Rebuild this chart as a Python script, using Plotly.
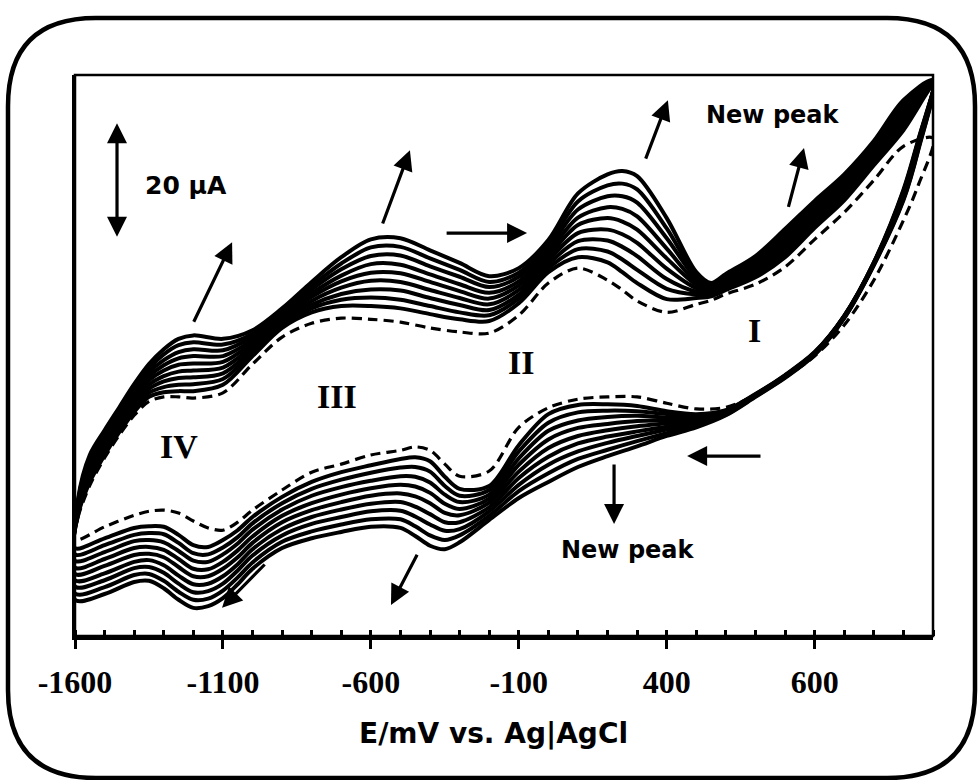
import plotly.graph_objects as go

# ---------------- data (E in mV, I in µA) ----------------
E_FWD = [-1600, -1590, -1550, -1500, -1450, -1400, -1350, -1300, -1250, -1200, -1100, -1000,
         -900, -800, -700, -600, -500, -400, -300, -200, -100, 0, 100, 200, 250, 300, 400,
         500, 550, 600, 700, 800, 900, 1000, 1100, 1200, 1300]
E_REV = [-1600, -1500, -1400, -1350, -1300, -1250, -1200, -1150, -1100, -1050, -1000, -900,
         -800, -700, -600, -500, -450, -400, -350, -300, -200, -100, 0, 100, 200, 300, 400,
         500, 600, 700, 800, 900, 1000, 1100, 1200, 1250, 1300]

# forward (anodic) scans, cycle 0 = dashed first scan
FWD_C0 = [16.7, 20.6, 26.2, 31.0, 35.0, 38.4, 40.8, 41.6, 41.6, 41.4, 42.3, 47.3, 52.0, 54.4, 55.3, 55.1, 54.6, 53.6, 52.9, 52.7, 55.8, 61.4, 64.0, 61.9, 60.2, 58.3, 56.3, 57.7, 58.4, 59.5, 61.2, 64.2, 69.0, 73.7, 79.3, 85.2, 86.6]
FWD_C1 = [15.3, 21.0, 26.8, 31.5, 35.5, 39.0, 41.6, 42.4, 42.6, 42.6, 43.7, 48.7, 53.6, 56.3, 57.4, 57.4, 57.0, 56.0, 55.1, 54.8, 57.9, 63.3, 65.9, 65.0, 63.3, 61.4, 58.6, 58.8, 59.1, 60.2, 62.4, 65.9, 71.0, 75.8, 81.9, 88.0, 95.8]
FWD_C2 = [14.2, 21.3, 27.4, 32.0, 36.0, 39.6, 42.3, 43.3, 43.7, 43.8, 44.7, 49.3, 54.0, 57.0, 58.5, 58.9, 58.5, 57.4, 56.3, 55.8, 58.7, 64.0, 67.3, 66.9, 65.5, 63.7, 60.4, 59.4, 59.4, 60.6, 62.9, 66.5, 71.6, 76.4, 82.4, 88.7, 95.9]
FWD_C3 = [13.1, 21.7, 28.0, 32.6, 36.6, 40.2, 43.0, 44.3, 44.9, 45.0, 45.7, 49.8, 54.5, 57.6, 59.5, 60.3, 60.1, 58.8, 57.6, 56.7, 59.4, 64.7, 68.7, 68.8, 67.7, 66.1, 62.1, 59.9, 59.7, 60.9, 63.3, 67.1, 72.2, 76.9, 82.9, 89.3, 96.0]
FWD_C4 = [11.9, 22.0, 28.6, 33.1, 37.1, 40.8, 43.7, 45.2, 46.0, 46.2, 46.7, 50.4, 54.9, 58.3, 60.6, 61.8, 61.6, 60.2, 58.8, 57.7, 60.2, 65.4, 70.1, 70.7, 69.9, 68.4, 63.9, 60.5, 60.0, 61.3, 63.8, 67.7, 72.8, 77.5, 83.5, 90.0, 96.1]
FWD_C5 = [10.8, 22.4, 29.2, 33.7, 37.7, 41.4, 44.5, 46.2, 47.2, 47.4, 47.7, 51.0, 55.3, 59.0, 61.7, 63.2, 63.1, 61.6, 60.0, 58.7, 61.0, 66.1, 71.5, 72.7, 72.1, 70.7, 65.7, 61.1, 60.3, 61.6, 64.3, 68.4, 73.4, 78.1, 84.0, 90.6, 96.3]
FWD_C6 = [9.7, 22.7, 29.7, 34.2, 38.2, 42.0, 45.2, 47.1, 48.3, 48.7, 48.7, 51.5, 55.7, 59.6, 62.7, 64.7, 64.6, 62.9, 61.2, 59.7, 61.7, 66.8, 72.8, 74.6, 74.3, 73.0, 67.4, 61.6, 60.5, 62.0, 64.7, 69.0, 73.9, 78.6, 84.5, 91.3, 96.4]
FWD_C7 = [8.6, 23.0, 30.3, 34.7, 38.7, 42.6, 45.9, 48.0, 49.4, 49.9, 49.7, 52.1, 56.2, 60.3, 63.8, 66.1, 66.2, 64.3, 62.5, 60.7, 62.5, 67.5, 74.2, 76.5, 76.5, 75.4, 69.2, 62.2, 60.8, 62.3, 65.2, 69.6, 74.5, 79.2, 85.0, 91.9, 96.5]
FWD_C8 = [7.4, 23.4, 30.9, 35.3, 39.3, 43.2, 46.6, 49.0, 50.6, 51.1, 50.7, 52.6, 56.6, 60.9, 64.8, 67.6, 67.7, 65.7, 63.7, 61.6, 63.2, 68.2, 75.6, 78.4, 78.7, 77.7, 70.9, 62.7, 61.1, 62.7, 65.6, 70.2, 75.1, 79.7, 85.6, 92.6, 96.6]
FWD_C9 = [6.3, 23.7, 31.5, 35.8, 39.8, 43.8, 47.3, 49.9, 51.7, 52.3, 51.7, 53.2, 57.0, 61.6, 65.9, 69.0, 69.2, 67.1, 64.9, 62.6, 64.0, 68.9, 77.0, 80.3, 80.9, 80.0, 72.7, 63.3, 61.4, 63.0, 66.1, 70.8, 75.7, 80.3, 86.1, 93.2, 96.7]

# reverse (cathodic) scans, listed from -1600 to 1300
REV_C0 = [16.7, 19.0, 21.0, 21.7, 21.9, 21.4, 20.0, 18.8, 18.4, 19.8, 21.9, 25.4, 28.5, 29.9, 31.5, 32.3, 32.9, 32.3, 29.9, 27.8, 28.7, 36.3, 39.7, 41.2, 41.6, 41.6, 40.5, 39.5, 39.8, 41.9, 45.0, 48.7, 54.1, 61.9, 72.3, 78.4, 86.6]
REV_C1 = [15.3, 17.0, 18.8, 19.1, 19.0, 17.6, 15.8, 15.5, 16.7, 18.4, 20.7, 24.2, 26.8, 28.5, 29.7, 30.8, 31.1, 30.4, 27.7, 25.6, 26.1, 33.2, 38.6, 40.2, 40.3, 40.0, 39.1, 38.6, 39.3, 42.1, 45.4, 49.4, 55.7, 65.0, 77.6, 86.3, 95.8]
REV_C2 = [14.2, 15.8, 17.6, 17.9, 17.7, 16.2, 14.4, 14.2, 15.4, 17.2, 19.6, 23.1, 25.6, 27.2, 28.4, 29.3, 29.4, 28.6, 26.1, 24.4, 25.4, 32.1, 37.1, 38.9, 39.2, 39.1, 38.6, 38.3, 39.2, 42.0, 45.3, 49.3, 55.7, 64.9, 77.4, 86.1, 95.9]
REV_C3 = [13.1, 14.6, 16.5, 16.7, 16.3, 14.8, 13.1, 12.9, 14.2, 16.1, 18.5, 22.0, 24.4, 25.9, 27.0, 27.8, 27.7, 26.7, 24.6, 23.3, 24.6, 30.9, 35.7, 37.5, 38.1, 38.3, 38.0, 38.0, 39.1, 42.0, 45.3, 49.3, 55.6, 64.9, 77.2, 85.9, 96.0]
REV_C4 = [11.9, 13.4, 15.3, 15.5, 15.0, 13.4, 11.7, 11.6, 12.9, 14.9, 17.3, 20.9, 23.1, 24.6, 25.7, 26.3, 26.0, 24.9, 23.0, 22.1, 23.9, 29.8, 34.2, 36.2, 36.9, 37.4, 37.5, 37.7, 39.0, 41.9, 45.2, 49.2, 55.6, 64.8, 76.9, 85.6, 96.1]
REV_C5 = [10.8, 12.2, 14.1, 14.3, 13.7, 12.0, 10.4, 10.4, 11.7, 13.7, 16.2, 19.8, 21.9, 23.3, 24.4, 24.8, 24.3, 23.1, 21.4, 21.0, 23.2, 28.6, 32.7, 34.8, 35.8, 36.5, 37.0, 37.5, 38.9, 41.9, 45.2, 49.2, 55.5, 64.8, 76.7, 85.4, 96.3]
REV_C6 = [9.7, 10.9, 12.9, 13.2, 12.3, 10.5, 9.0, 9.1, 10.4, 12.5, 15.1, 18.6, 20.7, 22.0, 23.0, 23.3, 22.5, 21.2, 19.8, 19.8, 22.4, 27.5, 31.2, 33.5, 34.7, 35.6, 36.4, 37.2, 38.8, 41.8, 45.1, 49.1, 55.5, 64.7, 76.5, 85.2, 96.4]
REV_C7 = [8.6, 9.7, 11.8, 12.0, 11.0, 9.1, 7.6, 7.8, 9.1, 11.4, 14.0, 17.5, 19.5, 20.7, 21.7, 21.8, 20.8, 19.4, 18.3, 18.6, 21.7, 26.3, 29.8, 32.1, 33.6, 34.8, 35.9, 36.9, 38.7, 41.8, 45.1, 49.1, 55.4, 64.7, 76.3, 85.0, 96.5]
REV_C8 = [7.4, 8.5, 10.6, 10.8, 9.6, 7.7, 6.3, 6.5, 7.9, 10.2, 12.8, 16.4, 18.2, 19.4, 20.3, 20.3, 19.1, 17.5, 16.7, 17.5, 20.9, 25.2, 28.3, 30.8, 32.4, 33.9, 35.3, 36.6, 38.5, 41.7, 45.0, 49.0, 55.4, 64.6, 76.0, 84.7, 96.6]
REV_C9 = [6.3, 7.3, 9.4, 9.6, 8.3, 6.3, 4.9, 5.2, 6.6, 9.0, 11.7, 15.3, 17.0, 18.1, 19.0, 18.8, 17.4, 15.7, 15.1, 16.3, 20.2, 24.0, 26.8, 29.4, 31.3, 33.0, 34.8, 36.3, 38.4, 41.6, 44.9, 48.9, 55.3, 64.5, 75.8, 84.5, 96.7]

TICK_VALS = [-1600, -1100, -600, -100, 400, 900]
TICK_TEXT = ["-1600", "-1100", "-600", "-100", "400", "600"]
X_TITLE = "E/mV vs. Ag|AgCl"
PEAK_LABELS = ["I", "II", "III", "IV"]
SCALE_UA = 20

FWD = [FWD_C0, FWD_C1, FWD_C2, FWD_C3, FWD_C4, FWD_C5, FWD_C6, FWD_C7, FWD_C8, FWD_C9]
REV = [REV_C0, REV_C1, REV_C2, REV_C3, REV_C4, REV_C5, REV_C6, REV_C7, REV_C8, REV_C9]

# ---------------- figure ----------------
W, H = 979, 780
ML, MR, MT, MB = 75, 46, 75, 144
PW, PH = W - ML - MR, H - MT - MB

fig = go.Figure()
order = list(range(1, 10)) + [0]
for k in order:
    xs = E_FWD + E_REV[-2::-1]
    ys = FWD[k] + REV[k][-2::-1]
    fig.add_trace(go.Scatter(
        x=xs, y=ys, mode="lines", hoverinfo="skip",
        line=dict(color="black", width=4 if k else 3.2, shape="spline", smoothing=0.9,
                  dash="solid" if k else "10px,6px"),
    ))

TXT = dict(family="DejaVu Sans", size=24, color="black", weight="bold")
SERIF = dict(family="Liberation Serif", size=34, color="black", weight="bold")

ann = []
def arrow(x, y, ax, ay, both=False):
    d = dict(x=x, y=y, ax=ax, ay=ay, xref="x", yref="y", axref="x", ayref="y",
             text="", showarrow=True, arrowhead=2, arrowsize=1.25, arrowwidth=3.2,
             arrowcolor="black")
    if both:
        d["arrowside"] = "end+start"
        d["startarrowhead"] = 2
        d["startarrowsize"] = 1.25
    ann.append(d)

arrow(-1458, 69.2 + SCALE_UA, -1458, 69.2, both=True)
arrow(-1069, 68.5, -1201, 54.4)
arrow(-468, 84.5, -562, 71.5)
arrow(-72, 70.1, -349, 70.1)
arrow(404, 93.2, 327, 82.8)
arrow(864, 84.9, 810, 74.4)
arrow(469, 31.3, 722, 31.3)
arrow(222, 19.5, 222, 30.1)
arrow(-532, 5.4, -441, 14.4)
arrow(-1103, 4.9, -954, 12.7)

ann.append(dict(x=-1225, y=78.4, xref="x", yref="y", text=f"{SCALE_UA} µA", showarrow=False,
                font=dict(TXT, size=25)))
ann.append(dict(x=759, y=90.6, xref="x", yref="y", text="New peak", showarrow=False, font=TXT))
ann.append(dict(x=269, y=15.0, xref="x", yref="y", text="New peak", showarrow=False, font=TXT))
for lab, (lx, ly) in zip(PEAK_LABELS, [(695, 53.2), (-92, 47.5), (-714, 41.6), (-1248, 32.9)]):
    ann.append(dict(x=lx, y=ly, xref="x", yref="y", text=lab, showarrow=False, font=SERIF))

def pp(px, py):
    return (px - ML) / PW, (H - MB - py) / PH

ann.append(dict(x=pp(493, 0)[0], y=pp(0, 733)[1], xref="paper", yref="paper", text=X_TITLE,
                showarrow=False, yanchor="middle", font=dict(TXT, size=28)))

# rounded outer frame
L, T = pp(8, 18)
R, B = pp(975, 778)
rx, ry = 88 / PW, 88 / PH
path = (f"M {L+rx},{T} L {R-rx},{T} Q {R},{T} {R},{T-ry} L {R},{B+ry} Q {R},{B} {R-rx},{B} "
        f"L {L+rx},{B} Q {L},{B} {L},{B+ry} L {L},{T-ry} Q {L},{T} {L+rx},{T} Z")

fig.update_layout(
    width=W, height=H, margin=dict(l=ML, r=MR, t=MT, b=MB),
    paper_bgcolor="white", plot_bgcolor="white", showlegend=False,
    annotations=ann,
    shapes=[
        dict(type="path", path=path, xref="paper", yref="paper", line=dict(color="black", width=4.5)),
        dict(type="rect", x0=0, x1=1, y0=0, y1=1, xref="paper", yref="paper",
             line=dict(color="black", width=2.5)),
    ],
    xaxis=dict(range=[-1600, 1300], showline=True, linecolor="black", linewidth=4,
               tickmode="array", tickvals=TICK_VALS, ticktext=TICK_TEXT,
               ticks="outside", ticklen=9, tickwidth=3, tickcolor="black",
               tickfont=dict(family="Liberation Serif", size=32, color="black", weight="bold"),
               ticklabelstandoff=6,
               minor=dict(tick0=-1600, dtick=100, ticks="inside", ticklen=6, tickwidth=2.5,
                          tickcolor="black", showgrid=False),
               showgrid=False, zeroline=False),
    yaxis=dict(range=[0, 97.6], showline=True, linecolor="black", linewidth=3,
               showticklabels=False, ticks="", showgrid=False, zeroline=False),
)

fig.write_html("out.html")
